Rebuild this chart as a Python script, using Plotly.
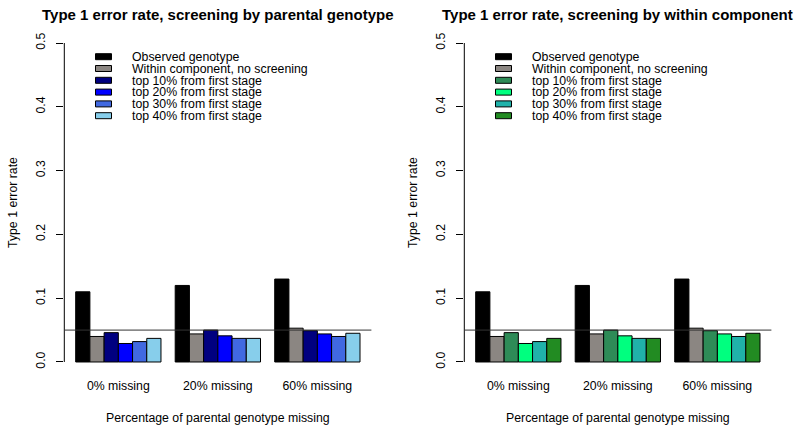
import plotly.graph_objects as go

categories = ["0% missing", "20% missing", "60% missing"]
series_names = ["Observed genotype", "Within component, no screening",
                "top 10% from first stage", "top 20% from first stage",
                "top 30% from first stage", "top 40% from first stage"]
observed = [0.110, 0.120, 0.130]
within_no_screen = [0.040, 0.044, 0.053]
top10 = [0.046, 0.050, 0.049]
top20 = [0.029, 0.041, 0.044]
top30 = [0.032, 0.037, 0.040]
top40 = [0.037, 0.037, 0.045]
series_values = [observed, within_no_screen, top10, top20, top30, top40]

colors_left = ["#000000", "#8B8682", "#000080", "#0000FF", "#4169E1", "#87CEEB"]
colors_right = ["#000000", "#8B8682", "#2E8B57", "#00FF7F", "#20B2AA", "#228B22"]
titles = ["Type 1 error rate, screening by parental genotype",
          "Type 1 error rate, screening by within component"]
threshold = 0.05
y_ticks = [0.0, 0.1, 0.2, 0.3, 0.4, 0.5]

W, H = 800, 430
FONT = "Arial, Liberation Sans, Helvetica, sans-serif"

fig = go.Figure()
x_domains = [[64.3 / W, 371.4 / W], [464.3 / W, 771.4 / W]]
y_domain = [(H - 374.75) / H, (H - 30.25) / H]

for p, cols in enumerate([colors_left, colors_right]):
    xa = "x" if p == 0 else "x2"
    ya = "y" if p == 0 else "y2"
    for name, vals, c in zip(series_names, series_values, cols):
        fig.add_trace(go.Bar(x=categories, y=vals, name=name, xaxis=xa, yaxis=ya,
                             marker=dict(color=c, line=dict(color="#000000", width=1)),
                             showlegend=False))

common_x = dict(type="category", range=[-0.543, 2.543], showline=False, showgrid=False,
                ticks="", zeroline=False, tickfont=dict(family=FONT, size=12.3, color="#000"),
                ticklabelstandoff=2,
                title=dict(text="Percentage of parental genotype missing",
                           font=dict(family=FONT, size=12.3, color="#000"), standoff=21),
                automargin=False)
common_y = dict(range=[-0.02, 0.52], tickvals=y_ticks, ticktext=[f"{v:.1f}" for v in y_ticks],
                tickangle=-90, ticks="outside", ticklen=7, tickcolor="#000", showline=False,
                showgrid=False, zeroline=False, tickfont=dict(family=FONT, size=12.3, color="#000"),
                ticklabelstandoff=6,
                title=dict(text="Type 1 error rate", font=dict(family=FONT, size=12.3, color="#000"),
                           standoff=14),
                automargin=False)

fig.update_layout(
    xaxis=dict(domain=x_domains[0], anchor="y", **common_x),
    yaxis=dict(domain=y_domain, anchor="x", **common_y),
    xaxis2=dict(domain=x_domains[1], anchor="y2", **common_x),
    yaxis2=dict(domain=y_domain, anchor="x2", **common_y),
    barmode="group", bargap=1 / 7, bargroupgap=0,
    width=W, height=H, margin=dict(l=0, r=0, t=0, b=0),
    plot_bgcolor="white", paper_bgcolor="white",
    font=dict(family=FONT, size=12, color="#000"),
)

ROW = 11.8
FIRST = 56.7
shapes = []
annotations = []
for p, cols in enumerate([colors_left, colors_right]):
    xs = "x" if p == 0 else "x2"
    ys = "y" if p == 0 else "y2"
    shapes.append(dict(type="line", xref=f"{xs} domain", yref=ys, x0=0, x1=0,
                       y0=y_ticks[0], y1=y_ticks[-1], line=dict(color="#000", width=1)))
    shapes.append(dict(type="line", xref=f"{xs} domain", yref=ys, x0=0, x1=1,
                       y0=threshold, y1=threshold, line=dict(color="#333", width=1)))
    dom = x_domains[p]
    annotations.append(dict(text=f"<b>{titles[p]}</b>", xref="paper", yref="paper",
                            x=(dom[0] + dom[1]) / 2, y=1 - 15 / H, xanchor="center",
                            yanchor="middle", showarrow=False,
                            font=dict(family=FONT, size=15, color="#000")))
    off = 400 * p
    for i, c in enumerate(cols):
        yc = FIRST + ROW * i
        shapes.append(dict(type="rect", xref="paper", yref="paper",
                           x0=(95.5 + off) / W, x1=(111.5 + off) / W,
                           y0=1 - (yc + 3) / H, y1=1 - (yc - 3) / H,
                           fillcolor=c, line=dict(color="#000", width=1)))
    legend_text = "<br>".join(f'<span style="font-size:12.3px">{n}</span>' for n in series_names)
    mid = FIRST + ROW * (len(series_names) - 1) / 2
    annotations.append(dict(text=legend_text, xref="paper", yref="paper",
                            x=(130 + off) / W, y=1 - mid / H, xanchor="left",
                            yanchor="middle", align="left", showarrow=False,
                            font=dict(family=FONT, size=ROW / 1.3, color="#000")))

fig.update_layout(shapes=shapes, annotations=annotations)
fig.write_html("out.html", config={"displayModeBar": False},
               post_script="document.body.style.margin='0';document.body.style.overflow='hidden';")
